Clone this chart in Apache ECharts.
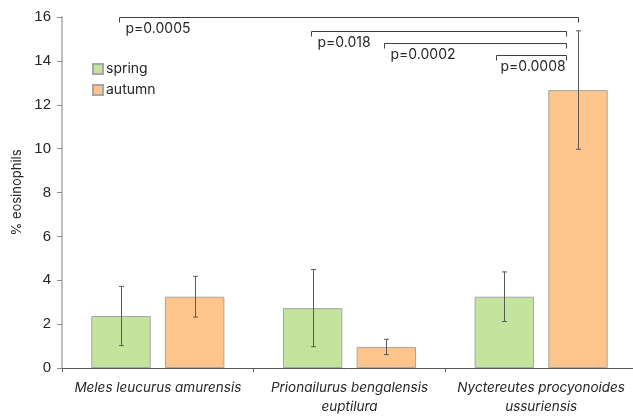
<!DOCTYPE html>
<html>
<head>
<meta charset="utf-8">
<script src="https://cdn.jsdelivr.net/npm/echarts@6/dist/echarts.min.js"></script>
<style>
  html, body { margin: 0; padding: 0; background: #fff; }
  #main { width: 633px; height: 417px; }
</style>
</head>
<body>
<div id="main"></div>
<script>
// values
const species = ['Meles leucurus amurensis', 'Prionailurus bengalensis\neuptilura', 'Nyctereutes procyonoides\nussuriensis'];
const seasons = ['spring', 'autumn'];
const springMean = [2.37, 2.73, 3.25];
const springSd = [1.35, 1.76, 1.13];
const autumnMean = [3.25, 0.96, 12.67];
const autumnSd = [0.93, 0.35, 2.70];
const yTicks = [0, 2, 4, 6, 8, 10, 12, 14, 16];

// significance brackets: [category, season] at each end
const bracketFrom = [[0, 0], [1, 0], [1, 1], [2, 0]];
const bracketTo = [[2, 1], [2, 1], [2, 1], [2, 1]];
const bracketY = [16.0, 15.37, 14.8, 14.25];
const bracketLabels = ['p=0.0005', 'p=0.018', 'p=0.0002', 'p=0.0008'];

const BAR_W = 0.31, BAR_GAP = 0.24;
const FONT = 'Inter, "Noto Sans", sans-serif';
const TEXT = '#262626';

function barOffset(api, season) {
    let band = api.size([1, 0])[0];
    let off = band * BAR_W * (1 + BAR_GAP) / 2;
    return season === 0 ? -off : off;
}

function errorSeries(season, mean, sd) {
    return {
        type: 'custom',
        name: seasons[season] + '-err',
        z: 5,
        data: mean.map((m, i) => [i, m - sd[i], m + sd[i]]),
        encode: { x: 0, y: [1, 2] },
        renderItem: function (params, api) {
            let c = api.value(0);
            let lo = api.coord([c, api.value(1)]);
            let hi = api.coord([c, api.value(2)]);
            let x = Math.round(lo[0] + barOffset(api, season)) + 0.5;
            let style = { stroke: '#595959', lineWidth: 1 };
            return {
                type: 'group',
                children: [
                    { type: 'line', shape: { x1: x, y1: lo[1], x2: x, y2: hi[1] }, style: style },
                    { type: 'line', shape: { x1: x - 2.5, y1: lo[1], x2: x + 2.5, y2: lo[1] }, style: style },
                    { type: 'line', shape: { x1: x - 2.5, y1: hi[1], x2: x + 2.5, y2: hi[1] }, style: style }
                ]
            };
        }
    };
}

let bracketData = bracketY.map((y, i) => [bracketFrom[i][0], bracketFrom[i][1], bracketTo[i][0], bracketTo[i][1], y, i]);

let chart = echarts.init(document.getElementById('main'));
let option = {
    animation: false,
    textStyle: { fontFamily: FONT },
    grid: { left: 62, width: 575, top: 17, bottom: 49, outerBoundsMode: 'none', containLabel: false },
    legend: {
        data: seasons,
        orient: 'vertical',
        left: 92,
        top: 62,
        padding: 0,
        itemWidth: 10,
        itemHeight: 10,
        itemGap: 7,
        icon: 'rect',
        textStyle: { fontSize: 14, color: TEXT, fontFamily: FONT, padding: [0, 0, 0, -2] }
    },
    xAxis: {
        type: 'category',
        data: species,
        axisLine: { lineStyle: { color: '#595959', width: 1 } },
        axisTick: { show: true, length: 4, lineStyle: { color: '#595959' } },
        axisLabel: {
            fontSize: 13.5,
            fontStyle: 'italic',
            color: TEXT,
            lineHeight: 19,
            margin: 10,
            interval: 0
        }
    },
    yAxis: {
        type: 'value',
        min: 0,
        max: 16,
        interval: 2,
        name: '% eosinophils',
        nameLocation: 'middle',
        nameGap: 38,
        nameTextStyle: { fontSize: 13, color: TEXT },
        axisLine: { show: true, lineStyle: { color: '#bfbfbf', width: 2 } },
        axisTick: { show: true, length: 5, lineStyle: { color: '#8c8c8c' } },
        axisLabel: {
            fontSize: 15,
            fontFamily: '"Liberation Sans", Arial, sans-serif',
            color: TEXT,
            margin: 11,
            formatter: v => yTicks.includes(v) ? String(v) : ''
        },
        splitLine: { show: false }
    },
    series: [
        {
            name: 'spring',
            type: 'bar',
            data: springMean,
            barWidth: (BAR_W * 100) + '%',
            barGap: (BAR_GAP * 100) + '%',
            itemStyle: { color: '#c3e49c', borderColor: '#a6a6a6', borderWidth: 1 }
        },
        {
            name: 'autumn',
            type: 'bar',
            data: autumnMean,
            barWidth: (BAR_W * 100) + '%',
            itemStyle: { color: '#fdc48b', borderColor: '#a6a6a6', borderWidth: 1 }
        },
        errorSeries(0, springMean, springSd),
        errorSeries(1, autumnMean, autumnSd),
        {
            type: 'custom',
            name: 'brackets',
            z: 6,
            clip: false,
            data: bracketData,
            encode: { x: [0, 2], y: 4 },
            renderItem: function (params, api) {
                let idx = api.value(5);
                let a = api.coord([api.value(0), api.value(4)]);
                let b = api.coord([api.value(2), api.value(4)]);
                let x1 = Math.round(a[0] + barOffset(api, api.value(1))) - 1.5;
                let x2 = Math.round(b[0] + barOffset(api, api.value(3))) + 0.5;
                if (idx > 0) x2 -= 12;
                if (idx === 3) x1 -= 6;
                let y = Math.round(a[1]) + 0.5;
                let style = { stroke: '#404040', lineWidth: 1, fill: null };
                return {
                    type: 'group',
                    children: [
                        {
                            type: 'polyline',
                            shape: { points: [[x1, y + 5], [x1, y], [x2, y], [x2, y + 5]] },
                            style: style
                        },
                        {
                            type: 'text',
                            x: x1 + (idx === 3 ? 4 : 6),
                            y: y + 11,
                            style: {
                                text: bracketLabels[idx],
                                fontSize: 14,
                                fontFamily: FONT,
                                fill: TEXT,
                                verticalAlign: 'middle',
                                align: 'left'
                            }
                        }
                    ]
                };
            }
        }
    ]
};
chart.setOption(option);
</script>
</body>
</html>
